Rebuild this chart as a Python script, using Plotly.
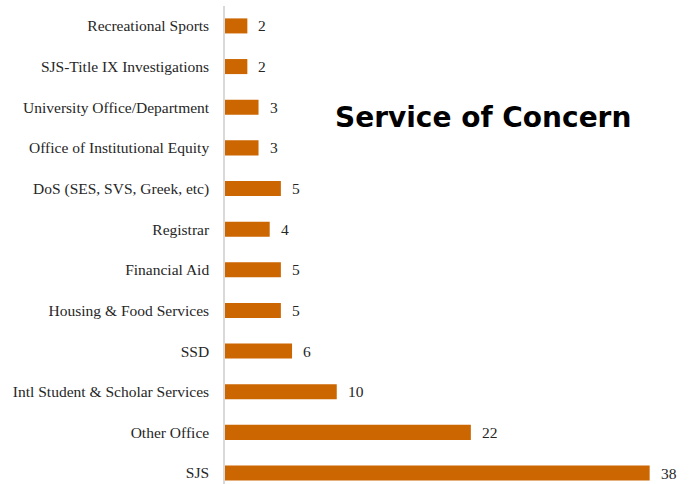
import plotly.graph_objects as go

# Services, bottom to top
services = [
    "SJS",
    "Other Office",
    "Intl Student & Scholar Services",
    "SSD",
    "Housing & Food Services",
    "Financial Aid",
    "Registrar",
    "DoS (SES, SVS, Greek, etc)",
    "Office of Institutional Equity",
    "University Office/Department",
    "SJS-Title IX Investigations",
    "Recreational Sports",
]
counts = [38, 22, 10, 6, 5, 5, 4, 5, 3, 3, 2, 2]

bar_color = "#CC6600"
label_font = dict(family="Liberation Serif, Times New Roman, serif", size=15.5, color="#262626")

fig = go.Figure(
    go.Bar(
        x=counts,
        y=services,
        orientation="h",
        marker=dict(color=bar_color, line=dict(width=0)),
        hoverinfo="skip",
    )
)

# value labels just past each bar end
for s, c in zip(services, counts):
    fig.add_annotation(
        x=c, y=s, text=str(c), showarrow=False,
        xanchor="left", yanchor="middle", xshift=9,
        font=label_font,
    )

fig.add_annotation(
    text="<b>Service of Concern</b>",
    xref="paper", yref="paper", x=0.578, y=0.766,
    xanchor="center", yanchor="middle", showarrow=False,
    font=dict(family="DejaVu Sans, sans-serif", size=28, color="#000000"),
)

fig.update_layout(
    width=692,
    height=484,
    margin=dict(l=225, r=20, t=6, b=0, pad=0),
    paper_bgcolor="white",
    plot_bgcolor="white",
    bargap=0.63,
    showlegend=False,
    xaxis=dict(
        range=[0, 40], visible=False, showgrid=False, zeroline=False,
    ),
    yaxis=dict(
        type="category",
        categoryorder="array",
        categoryarray=services,
        range=[-0.27, 11.49],
        showgrid=False,
        zeroline=False,
        showline=True,
        linecolor="#D9D9D9",
        linewidth=1.5,
        ticks="",
        ticklabelstandoff=11,
        tickfont=label_font,
    ),
)

fig.write_html("out.html")
